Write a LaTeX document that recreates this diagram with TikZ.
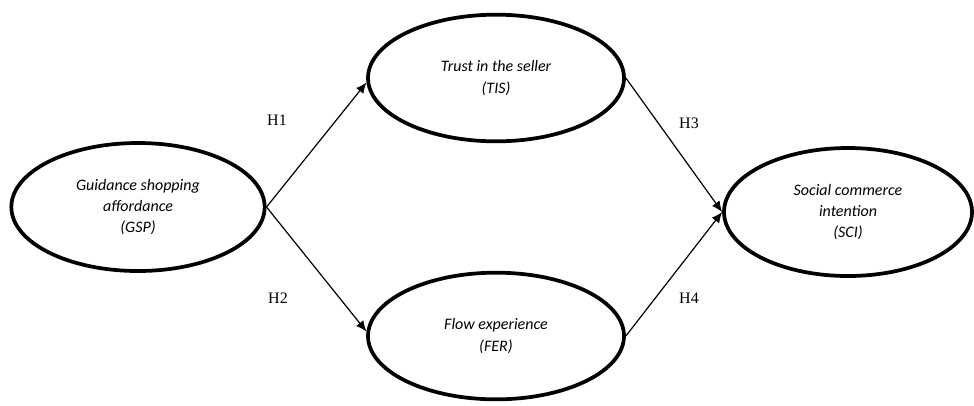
\documentclass[tikz,border=0pt]{standalone}
\usepackage{fontspec}
\setmainfont{Liberation Serif}
\newfontfamily\calib{Carlito}
\usetikzlibrary{shapes.geometric, arrows.meta}

\tikzset{
  construct/.style={draw, ellipse, line width=2.8pt, inner sep=0pt, align=center,
    font=\calib\itshape\fontsize{12}{16}\selectfont},
  path/.style={line width=0.9pt, -{Latex[length=8pt,width=7pt]}},
  hyp/.style={font=\fontsize{12}{14}\selectfont}
}

\begin{document}
\begin{tikzpicture}[x=0.75pt, y=-0.75pt]

  \useasboundingbox (0,0) rectangle (974,405);

  % Constructos del modelo
  \node[construct, minimum width=190pt, minimum height=96pt] (gsp) at (138,207)
    {Guidance shopping\\affordance\\(GSP)};
  \node[construct, minimum width=192pt, minimum height=95pt] (tis) at (496,78)
    {Trust in the seller\\(TIS)};
  \node[construct, minimum width=192pt, minimum height=95pt] (fer) at (496,336)
    {Flow experience\\(FER)};
  \node[construct, minimum width=186pt, minimum height=96pt] (sci) at (848,212)
    {Social commerce\\intention\\(SCI)};

  % Hipotesis
  \draw[path] (gsp.east) -- (tis.182);
  \draw[path] (gsp.east) -- (fer.178);
  \draw[path] (tis.east) -- (sci.west);
  \draw[path] (fer.east) -- (sci.west);

  % Etiquetas de las hipotesis
  \node[hyp] (h1) at (277,120) {H1};
  \node[hyp] (h2) at (278,298) {H2};
  \node[hyp] (h3) at (689,123) {H3};
  \node[hyp] (h4) at (689,298) {H4};

\end{tikzpicture}
\end{document}
